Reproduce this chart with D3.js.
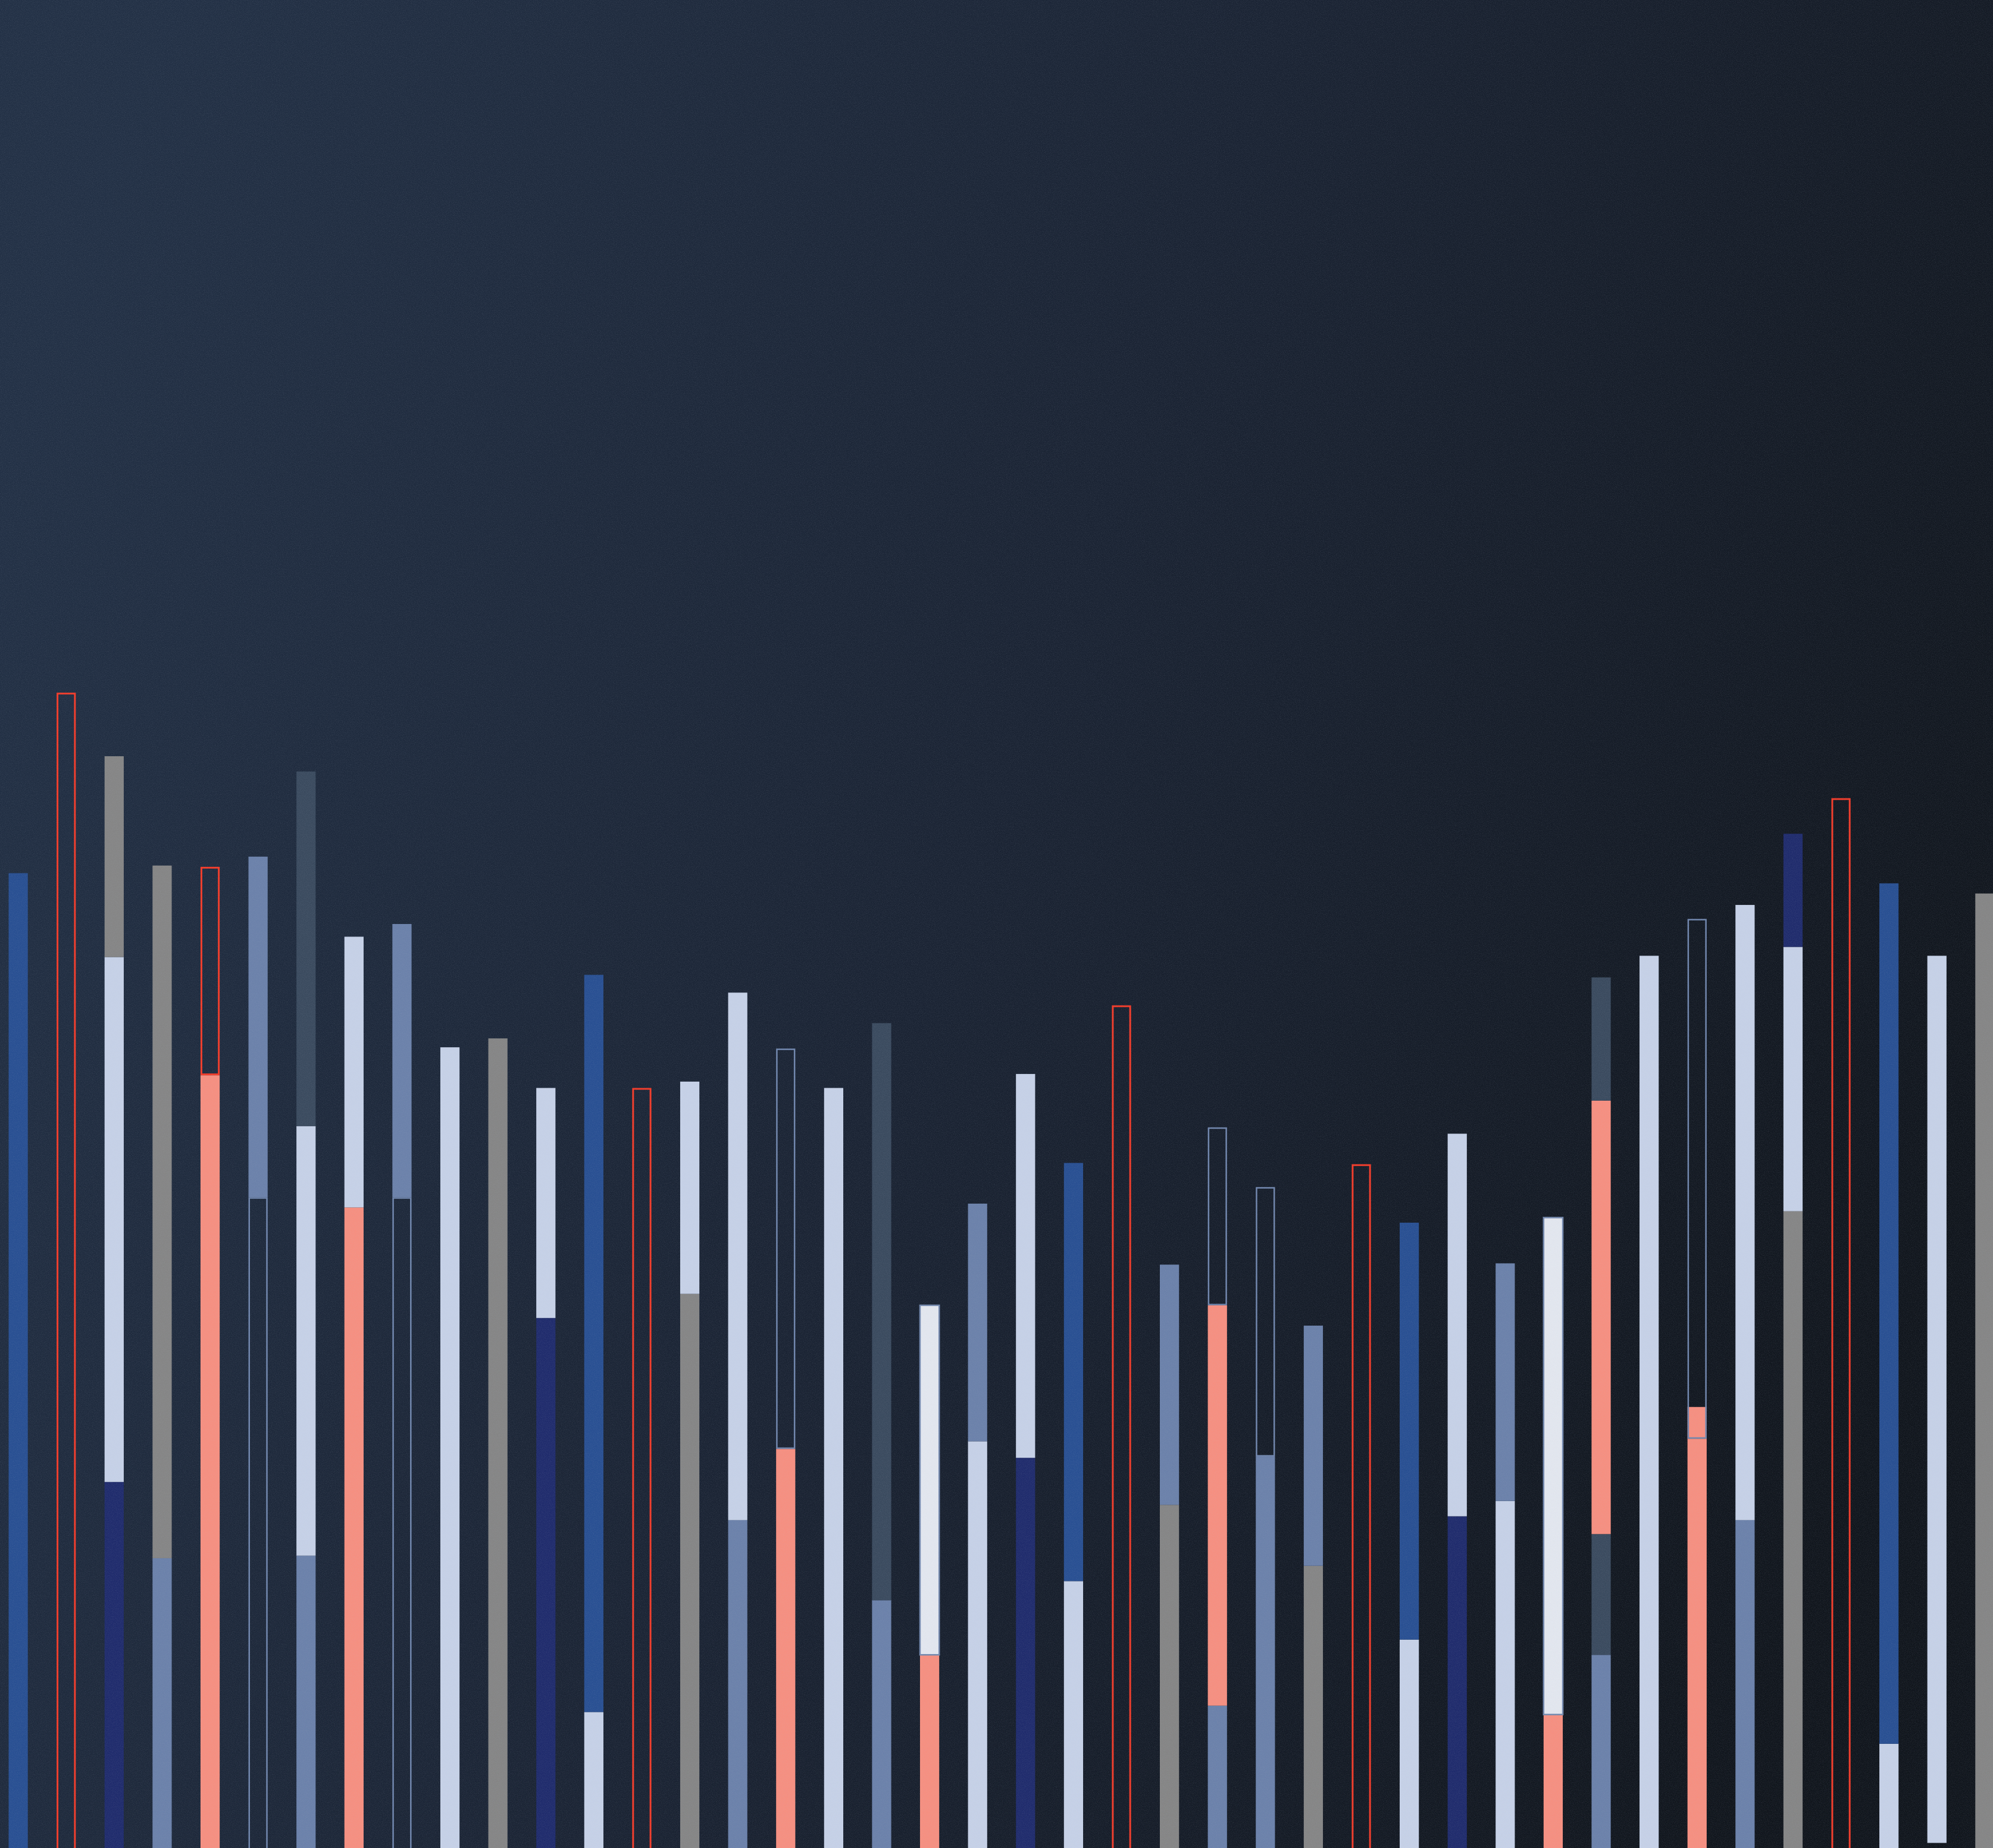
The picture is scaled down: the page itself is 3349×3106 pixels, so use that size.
<!DOCTYPE html>
<html><head><meta charset="utf-8">
<script src="https://cdn.jsdelivr.net/npm/d3@7"></script>
<style>html,body{margin:0;padding:0;background:#171f2a;overflow:hidden}</style>
</head><body>
<script>
const W = 3349, H = 3106;

// categories (one per bar, left to right)
const categories = ["b01","b02","b03","b04","b05","b06","b07","b08","b09","b10","b11","b12","b13","b14",
  "b15","b16","b17","b18","b19","b20","b21","b22","b23","b24","b25","b26","b27","b28",
  "b29","b30","b31","b32","b33","b34","b35","b36","b37","b38","b39","b40","b41","b42"];

// segment kinds, stacked bottom -> top
const segKinds = [
  ["blue"], ["redLine"], ["navy","light","gray"], ["steel","gray"], ["salmon","redLine"],
  ["steelLine","steel"], ["steel","light","slate"], ["salmon","light"], ["steelLine","steel"], ["light"],
  ["gray"], ["navy","light"], ["light","blue"], ["redLine"], ["gray","light"],
  ["steel","light"], ["salmon","steelLine"], ["light"], ["steel","slate"], ["salmon","white"],
  ["light","steel"], ["navy","light"], ["light","blue"], ["redLine"], ["gray","steel"],
  ["steel","salmon","steelLine"], ["steel","steelLine"], ["gray","steel"], ["redLine"], ["light","blue"],
  ["navy","light"], ["light","steel"], ["salmon","white"], ["steel","slate","salmon","slate"], ["light"],
  ["salmon","steelLine"], ["steel","light"], ["gray","light","navy"], ["redLine"], ["light","blue"],
  ["gap","light"], ["gray"]
];

// segment values, stacked bottom -> top
const segValues = [
  [76.7], [90.9], [28.8,41.3,15.8], [22.8,54.5], [60.8,16.4],
  [51.2,26.8], [23.0,33.8,27.9], [50.4,21.3], [51.2,21.5], [63.0],
  [63.7], [41.7,18.1], [10.7,58.0], [59.8], [43.6,16.7],
  [25.8,41.5], [31.4,31.5], [59.8], [19.5,45.4], [15.2,27.5],
  [32.0,18.7], [30.7,30.2], [21.0,32.9], [66.3], [27.0,18.9],
  [11.2,31.5,14.0], [30.8,21.2], [22.2,18.9], [53.8], [16.4,32.8],
  [26.1,30.1], [27.3,18.7], [10.5,39.1], [15.2,9.5,34.1,9.7], [70.2],
  [32.2,40.9], [25.8,48.4], [50.1,20.8,8.9], [82.6], [8.2,67.7],
  [0.4,69.8], [75.1]
];

// partial fill drawn inside an outlined segment (bar index, segment index, kind, value)
const innerFills = [ {bar: 35, seg: 1, kind: "salmon", value: 2.5} ];

const styles = {
  blue:      {fill:"#284f92"},
  navy:      {fill:"#1f2b6c"},
  light:     {fill:"#c6d1e7"},
  white:     {fill:"#e3e7ef", stroke:"#7388ad", sw:2.5},
  steel:     {fill:"#6b81aa"},
  gray:      {fill:"#858585"},
  slate:     {fill:"#3a4a5e"},
  salmon:    {fill:"#f68f80"},
  redLine:   {fill:"none", stroke:"#f23b29", sw:3},
  steelLine: {fill:"none", stroke:"#7086ad", sw:2.5},
  gap:       {fill:"none"}
};

const svg = d3.select("body").append("svg").attr("width", W).attr("height", H)
  .attr("viewBox", `0 0 ${W} ${H}`).style("display","block");
const defs = svg.append("defs");
const bg = defs.append("linearGradient").attr("id","bg")
  .attr("x1","0").attr("y1","0.25").attr("x2","1").attr("y2","0.6");
bg.append("stop").attr("offset","0").attr("stop-color","#223045");
bg.append("stop").attr("offset","0.5").attr("stop-color","#1a2333");
bg.append("stop").attr("offset","1").attr("stop-color","#10151c");
const noise = defs.append("filter").attr("id","noise").attr("x",0).attr("y",0).attr("width","100%").attr("height","100%")
  .attr("filterUnits","userSpaceOnUse");
noise.append("feTurbulence").attr("type","fractalNoise").attr("baseFrequency","0.85").attr("numOctaves","2").attr("seed","3").attr("stitchTiles","stitch");
noise.append("feColorMatrix").attr("type","matrix").attr("values","0 0 0 0 0.5  0 0 0 0 0.55  0 0 0 0 0.65  0 0 0 1.6 -0.6");

svg.append("rect").attr("width",W).attr("height",H).attr("fill","url(#bg)");

const x = d3.scaleBand().domain(categories).range([0, 3366]).paddingInner(0.6).paddingOuter(0.18);
const y = d3.scaleLinear().domain([0, 145.4]).range([H, 0]);

const rows = categories.map((c, i) => {
  let acc = 0;
  return segValues[i].map((v, j) => { const s = {cat:c, bar:i, seg:j, kind:segKinds[i][j], y0:acc, y1:acc+v}; acc += v; return s; });
});
const segs = rows.flat();

const g = svg.append("g");
// filled segments first
g.selectAll("rect.fill").data(segs.filter(d => styles[d.kind].fill !== "none")).join("rect")
  .attr("class","fill")
  .attr("x", d => x(d.cat)).attr("width", x.bandwidth())
  .attr("y", d => y(d.y1)).attr("height", d => y(d.y0) - y(d.y1) + (d.y0 === 0 ? 10 : 0))
  .attr("fill", d => styles[d.kind].fill)
  .attr("stroke", d => styles[d.kind].stroke || "none")
  .attr("stroke-width", d => styles[d.kind].sw || 0);

// inner partial fills
g.selectAll("rect.inner").data(innerFills).join("rect")
  .attr("class","inner")
  .attr("x", d => x(categories[d.bar])).attr("width", x.bandwidth())
  .attr("y", d => { const s = rows[d.bar][d.seg]; return y(s.y0 + d.value); })
  .attr("height", d => y(0) - y(d.value))
  .attr("fill", d => styles[d.kind].fill);

// outlined segments on top
g.selectAll("rect.line").data(segs.filter(d => styles[d.kind].fill === "none" && styles[d.kind].stroke)).join("rect")
  .attr("class","line")
  .attr("x", d => x(d.cat) + styles[d.kind].sw/2)
  .attr("width", d => x.bandwidth() - styles[d.kind].sw)
  .attr("y", d => y(d.y1) + styles[d.kind].sw/2)
  .attr("height", d => y(d.y0) - y(d.y1) - styles[d.kind].sw + (d.y0 === 0 ? 20 : 0))
  .attr("fill", "none")
  .attr("stroke", d => styles[d.kind].stroke)
  .attr("stroke-width", d => styles[d.kind].sw);

// grain overlay
svg.append("rect").attr("width",W).attr("height",H).attr("filter","url(#noise)").attr("opacity",0.14).style("pointer-events","none");
</script>
</body></html>
